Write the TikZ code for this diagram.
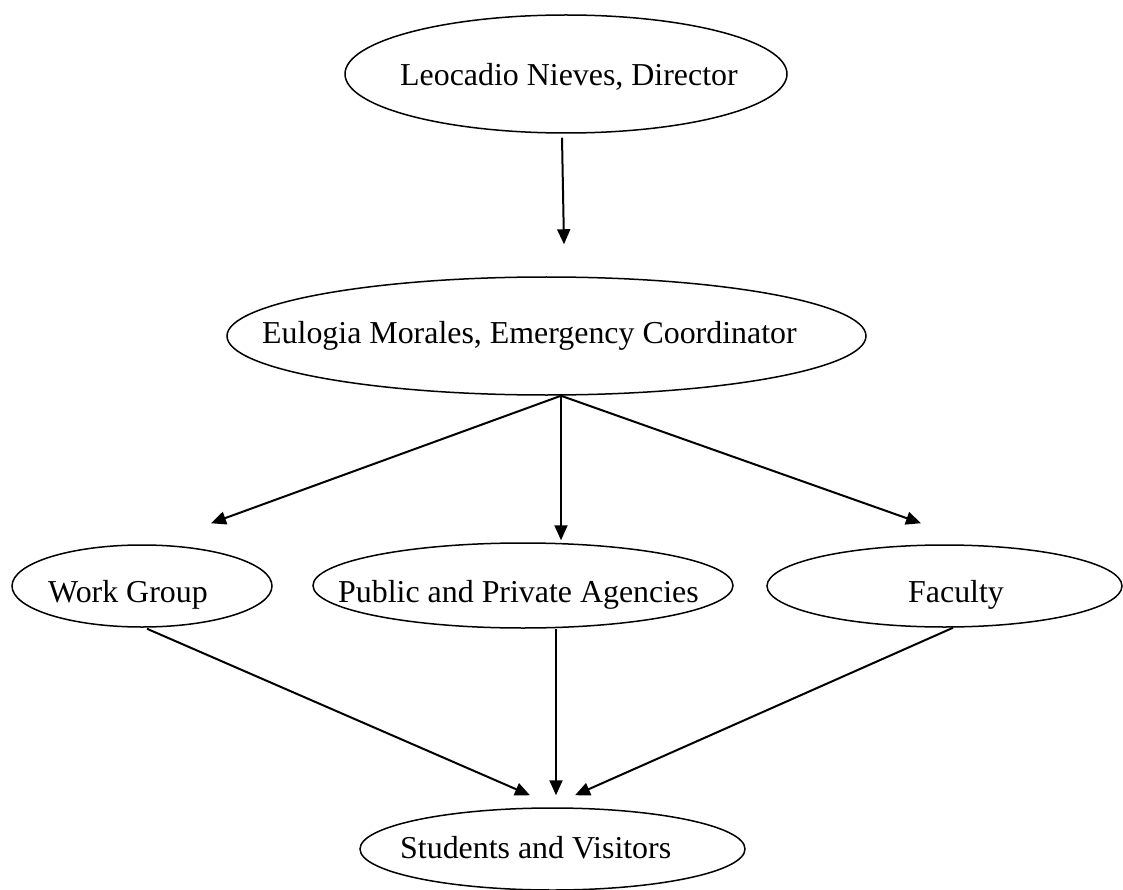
\documentclass[tikz,border=0pt]{standalone}
\usepackage{fontspec}
\setmainfont{Liberation Serif}
\usetikzlibrary{shapes.geometric,arrows.meta,calc}
\tikzset{
  oval/.style={draw=black, line width=1.5pt, ellipse, inner sep=0pt},
  lbl/.style={anchor=base west, inner sep=0pt, font=\fontsize{31.9}{38}\selectfont},
  arr/.style={draw=black, line width=2pt, -{Triangle[length=15pt,width=13pt]}}
}
\begin{document}
\begin{tikzpicture}[x=1pt,y=-1pt]
\useasboundingbox (0,0) rectangle (1123,890);
% ellipses
\node[oval, minimum width=442pt, minimum height=118pt] (e1) at (566,74) {};
\node[oval, minimum width=639pt, minimum height=118pt] (e2) at (546.5,336) {};
\node[oval, minimum width=260pt, minimum height=82pt] (e3) at (142,586) {};
\node[oval, minimum width=420pt, minimum height=85pt] (e4) at (523,585.5) {};
\node[oval, minimum width=355pt, minimum height=82pt] (e5) at (944.5,586) {};
\node[oval, minimum width=385pt, minimum height=82pt] (e6) at (552.5,849) {};
% labels
\node[lbl] (t1) at (400,86) {Leocadio Nieves, Director};
\node[lbl] (t2) at (262,343) {Eulogia Morales, Emergency Coordinator};
\node[lbl] (t3) at (48,602) {Work Group};
\node[lbl] (t4) at (338,602) {Public and Private Agencies};
\node[lbl] (t5) at (908,602) {Faculty};
\node[lbl] (t6) at (400,858) {Students and Visitors};
% connectors
\draw[arr] ($(e1.south)+(-4,4)$) -- ($(e2.north)+(17.5,-32)$);
\draw[arr] ($(e2.south)+(14.5,0)$) -- ($(e3.north)+(69,-21)$);
\draw[arr] ($(e2.south)+(14.5,0)$) -- ($(e4.north)+(38,-2)$);
\draw[arr] ($(e2.south)+(14.5,0)$) -- ($(e5.north)+(-23.5,-21)$);
\draw[arr] ($(e3.south)+(5,1)$) -- ($(e6.north)+(-22.5,-12)$);
\draw[arr] ($(e4.south)+(33,0)$) -- ($(e6.north)+(3.5,-12)$);
\draw[arr] ($(e5.south)+(8.5,0)$) -- ($(e6.north)+(22.5,-12)$);
\end{tikzpicture}
\end{document}
